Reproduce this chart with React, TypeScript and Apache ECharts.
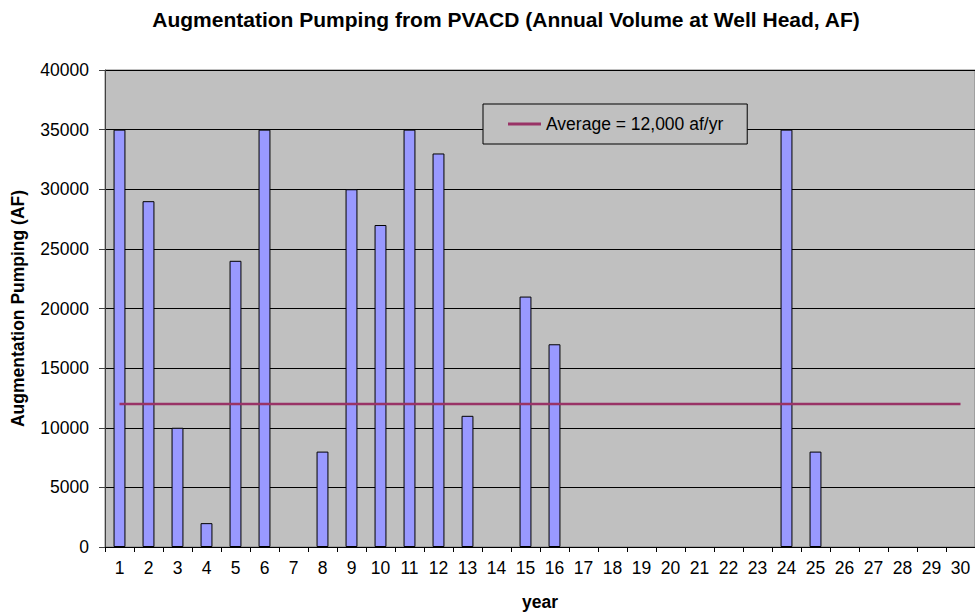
import React, { useEffect, useRef } from "react";
import * as echarts from "echarts";

const years: string[] = Array.from({ length: 30 }, (_, i) => String(i + 1));
const pumping: number[] = [
  35000, 29000, 10000, 2000, 24000, 35000, 0, 8000, 30000, 27000,
  35000, 33000, 11000, 0, 21000, 17000, 0, 0, 0, 0,
  0, 0, 0, 35000, 8000, 0, 0, 0, 0, 0,
];
const averageValue = 12000;
const averageLine: number[] = years.map(() => averageValue);
const averageLabel = "Average = 12,000 af/yr";

const FONT = "'Liberation Sans', Arial, sans-serif";

export default function App() {
  const ref = useRef<HTMLDivElement>(null);
  useEffect(() => {
    if (!ref.current) return;
    const chart = echarts.init(ref.current, undefined, { renderer: "svg" });
    chart.setOption({
      animation: false,
      backgroundColor: "#ffffff",
      textStyle: { fontFamily: FONT, color: "#000" },
      title: {
        text: "Augmentation Pumping from PVACD (Annual Volume at Well Head, AF)",
        left: 501,
        top: 4,
        textAlign: "center",
        textStyle: { fontFamily: FONT, fontSize: 21, fontWeight: "bold", color: "#000" },
      },
      legend: {
        data: [{ name: averageLabel, icon: "rect" }],
        left: 483,
        top: 104,
        padding: [11, 24, 11, 25],
        backgroundColor: "#C0C0C0",
        borderColor: "#000",
        borderWidth: 1,
        borderRadius: 0,
        itemWidth: 33,
        itemHeight: 3,
        itemGap: 5,
        textStyle: { fontFamily: FONT, fontSize: 17.5, color: "#000" },
      },
      grid: {
        left: 105,
        right: 0,
        top: 70,
        bottom: 67,
        show: true,
        backgroundColor: "#C0C0C0",
        borderColor: "#808080",
        borderWidth: 1,
      },
      xAxis: {
        type: "category",
        data: years,
        boundaryGap: true,
        name: "year",
        nameLocation: "middle",
        nameGap: 46,
        nameTextStyle: { fontFamily: FONT, fontSize: 17.5, fontWeight: "bold", color: "#000" },
        axisLine: { lineStyle: { color: "#000", width: 1 } },
        axisTick: { show: true, alignWithLabel: false, length: 5, lineStyle: { color: "#000" } },
        axisLabel: { fontFamily: FONT, fontSize: 17.5, color: "#000", margin: 12, interval: 0 },
        splitLine: { show: false },
      },
      yAxis: {
        type: "value",
        min: 0,
        max: 40000,
        interval: 5000,
        name: "Augmentation Pumping (AF)",
        nameLocation: "middle",
        nameGap: 78,
        nameTextStyle: { fontFamily: FONT, fontSize: 17.5, fontWeight: "bold", color: "#000" },
        axisLine: { show: true, lineStyle: { color: "#404040", width: 1 } },
        axisTick: { show: true, length: 6, lineStyle: { color: "#404040" } },
        axisLabel: {
          fontFamily: FONT,
          fontSize: 17.5,
          color: "#000",
          margin: 16,
          formatter: (v: number) => String(v),
        },
        splitLine: { show: true, lineStyle: { color: "#000", width: 1 } },
      },
      series: [
        {
          name: "Pumping",
          type: "bar",
          data: pumping.map((v) => (v === 0 ? null : v)),
          barWidth: "41%",
          itemStyle: { color: "#9999FF", borderColor: "#000", borderWidth: 1 },
          z: 2,
        },
        {
          name: averageLabel,
          type: "line",
          data: averageLine,
          symbol: "none",
          showSymbol: false,
          lineStyle: { color: "#993366", width: 2.5 },
          itemStyle: { color: "#993366" },
          z: 3,
        },
      ],
    });
    return () => chart.dispose();
  }, []);
  return (
    <div
      ref={ref}
      style={{ width: 975, height: 616, position: "fixed", left: 0, top: 0 }}
    />
  );
}
